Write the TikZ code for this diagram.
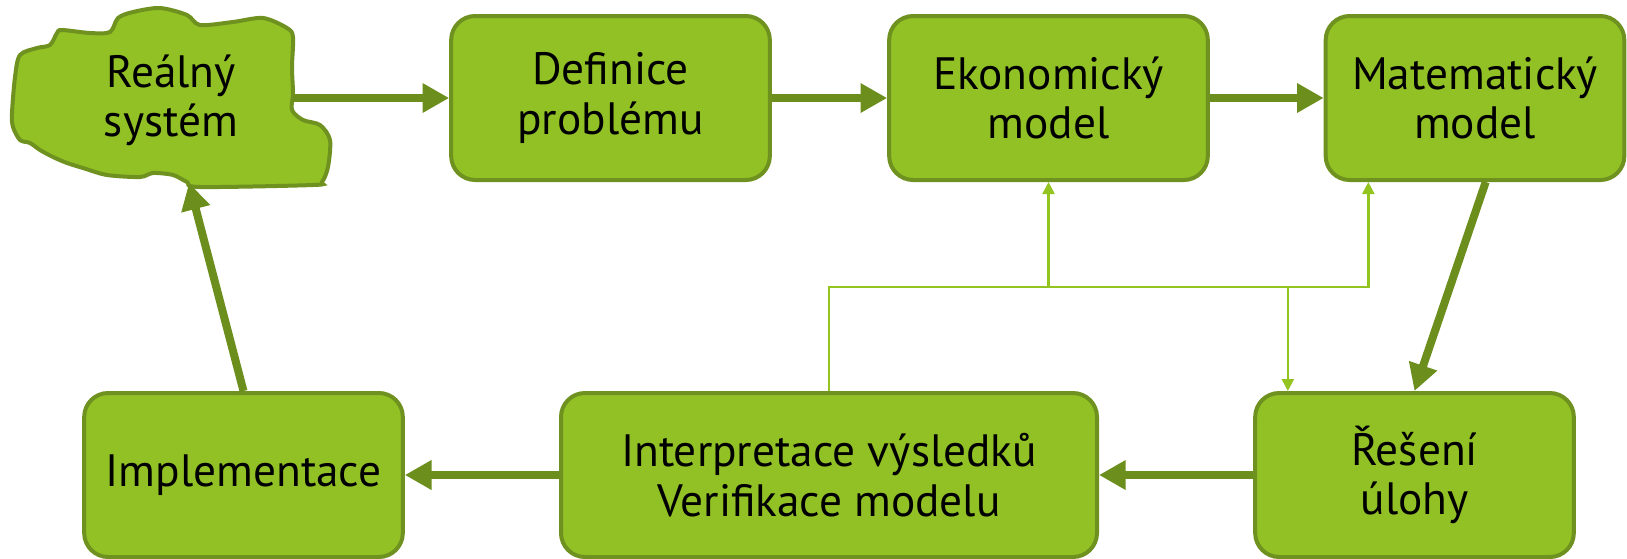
\documentclass[tikz,border=0pt]{standalone}
\usepackage{fontspec}
\setmainfont{PT Sans}
\usetikzlibrary{arrows.meta, positioning}
\definecolor{boxfill}{HTML}{92C125}
\definecolor{boxline}{HTML}{6E911F}
\definecolor{flowline}{HTML}{6B8E1D}
\definecolor{backline}{HTML}{93C41F}

\begin{document}
\begin{tikzpicture}[x=0.75pt, y=-0.75pt,
    stage/.style={draw=boxline, fill=boxfill, line width=3pt, rounded corners=18pt,
      minimum width=239pt, minimum height=123pt, inner sep=0pt, align=center,
      font=\fontsize{34}{37}\selectfont},
    flow/.style={draw=flowline, line width=6pt, -{Triangle[length=20pt, width=21pt]}},
    back/.style={draw=backline, line width=1.8pt, -{Triangle[length=9pt, width=9pt]}}]
  \useasboundingbox (0,0) rectangle (1627,558);
  % Real system (cloud)
  \draw[draw=boxline, fill=boxfill, line width=3pt]
    plot[smooth cycle, tension=0.5] coordinates {
      (13,127) (12,113) (15,77) (20,55) (37,48) (50,45) (57,33) (62,30) (90,33)
      (110,32) (118,18) (133,12) (160,8) (187,15) (200,25) (233,22) (263,18)
      (287,28) (293,37) (292,67) (293,93) (292,110) (303,120) (320,125) (330,140)
      (328,167) (322,182) (313,185) (200,187) (187,182) (173,175) (153,173)
      (140,177) (107,175) (83,168) (67,163) (53,157) (40,150) (30,143) (20,140)};
  \node[align=center, font=\fontsize{34}{37}\selectfont] (real) at (171,100) {Reálný\\systém};
  \coordinate (cloudE) at (293,98);
  \coordinate (cloudS) at (189,183);
  % Top row
  \node[stage] (defin) at (610.5,98) {Definice\\problému};
  \node[stage] (eko) at (1048.5,98) {Ekonomický\\model};
  \node[stage, minimum width=224pt] (mat) at (1475,98) {Matematický\\model};
  % Bottom row
  \node[stage] (impl) at (243.5,475) {Implementace};
  \node[stage, minimum width=402pt] (interp) at (829,475) {Interpretace výsledků\\Verifikace modelu};
  \node[stage] (res) at (1414.5,475) {Řešení\\úlohy};
  % Main cycle
  \draw[flow] (cloudE) -- (defin.west);
  \draw[flow] (defin.east) -- (eko.west);
  \draw[flow] (eko.east) -- (mat.west);
  \draw[flow] ([xshift=8pt]mat.south) -- (res.north);
  \draw[flow] (res.west) -- (interp.east);
  \draw[flow] (interp.west) -- (impl.east);
  \draw[flow] (impl.north) -- (cloudS);
  % Feedback from verification
  \coordinate (matIn) at ([xshift=-80pt]mat.south);
  \coordinate (resIn) at ([xshift=-95pt]res.north);
  \coordinate (busR) at (matIn |- 0,287);
  \draw[back] (interp.north) |- (busR) -- (matIn);
  \draw[back] (eko.south |- busR) -- (eko.south);
  \draw[back] (resIn |- busR) -- (resIn);
\end{tikzpicture}
\end{document}
